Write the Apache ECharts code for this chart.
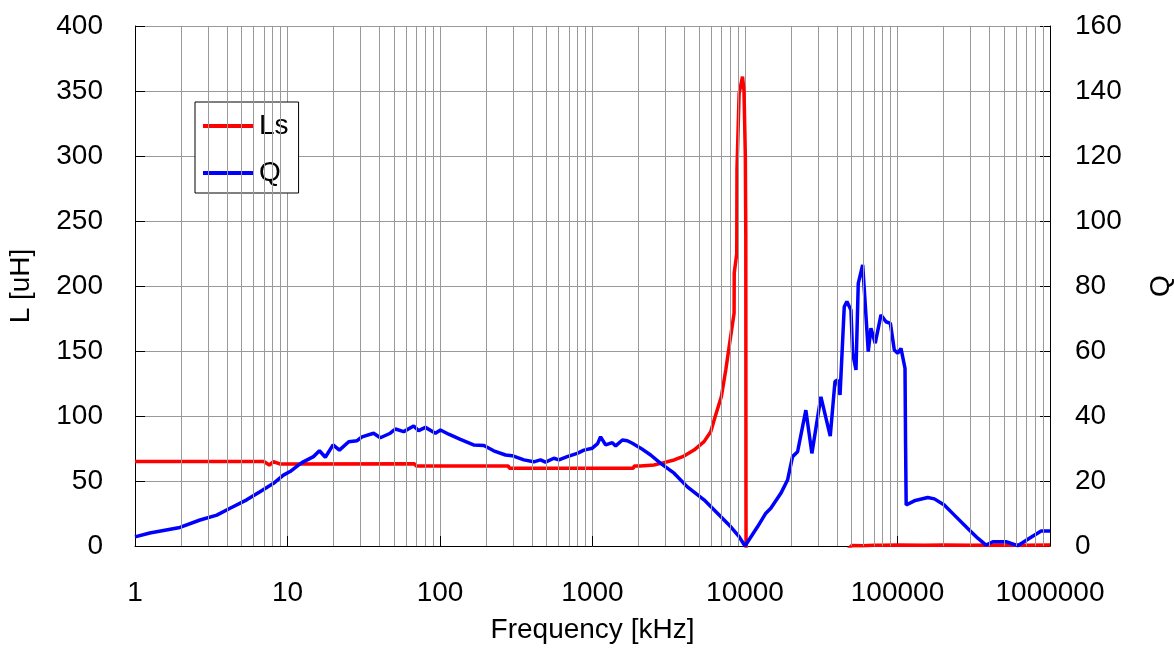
<!DOCTYPE html>
<html>
<head>
<meta charset="utf-8">
<script src="https://cdn.jsdelivr.net/npm/echarts@6/dist/echarts.min.js"></script>
<style>
html,body{margin:0;padding:0;background:#fff;overflow:hidden;}
#chart{width:1174px;height:649px;}
</style>
</head>
<body>
<div id="chart"></div>
<script>
// Ls series (left axis, uH)
const lsFreq = [1, 7, 7.1, 7.6, 8.1, 8.9, 68, 70, 280, 286, 1850, 1880, 2070, 2530, 2930, 3430, 3980, 4630, 5390, 5960, 6370, 7000, 7480, 7870, 8480, 8500, 8830, 8860, 9150, 9630, 9850, 10050, 10120, 10150, 10180, 12000, 30000, 48000, 50000, 60000, 70000, 80000, 100000, 150000, 200000, 300000, 500000, 700000, 1000000];
const lsVal  = [65, 65, 63.5, 62.3, 64.8, 63.1, 63.2, 61.5, 61.5, 59.8, 59.8, 61.5, 61.5, 62.3, 64.1, 66.2, 69.2, 73.8, 80.3, 87.9, 99.5, 115, 135.4, 153.3, 179, 210, 225, 290, 348, 361, 350, 300, 240, 30, -40, -60, -20, -2, 0.3, 0.2, 0.5, 0.6, 0.8, 0.6, 0.7, 0.6, 0.7, 0.6, 0.7];

// Q series (right axis)
const qFreq = [1, 1.25, 1.97, 2.67, 3.44, 4.2, 5.4, 6.6, 8.1, 9.4, 10.4, 11.8, 12.7, 14.8, 16.2, 17.7, 19.9, 21.9, 25.2, 28.6, 30.8, 36.7, 40.6, 47.2, 51, 57.8, 67.2, 72.4, 80.2, 93.3, 100.7, 114, 136, 166, 194, 225, 269, 297, 355, 412, 456, 492, 558, 602, 683, 794, 879, 997, 1080, 1130, 1219, 1349, 1419, 1570, 1691, 1825, 2070, 2406, 2799, 3428, 4189, 5386, 6594, 8069, 9145, 10000, 12080, 13700, 14760, 17180, 19010, 20500, 22120, 25060, 27460, 31460, 36230, 38900, 40480, 42000, 44750, 46580, 49500, 50800, 53430, 55300, 59100, 60600, 64300, 66950, 71450, 77930, 84080, 89800, 95300, 100300, 105400, 112000, 113000, 114000, 128900, 157800, 174500, 202600, 236000, 289000, 336000, 381000, 422000, 515000, 615000, 733000, 875000, 1000000];
const qVal  = [2.8, 4, 5.7, 8, 9.5, 11.6, 14.2, 16.7, 19.3, 21.8, 22.9, 24.9, 25.9, 27.5, 29.3, 27.3, 31.1, 29.5, 32.1, 32.4, 33.6, 34.7, 33.3, 34.7, 36.0, 35.2, 36.9, 35.5, 36.5, 34.7, 35.7, 34.4, 32.8, 31.1, 30.9, 29.3, 28.0, 27.8, 26.5, 25.9, 26.5, 25.8, 27.0, 26.5, 27.5, 28.5, 29.5, 30.1, 31.5, 33.6, 31.1, 31.8, 30.8, 32.6, 32.4, 31.6, 30.1, 28.0, 25.4, 22.4, 18.2, 14.2, 10.1, 5.9, 2.9, 0, 5.9, 10.1, 11.6, 16.2, 20.3, 27.5, 29.0, 41.8, 28.5, 45.9, 33.8, 50.6, 51.1, 46.5, 73.6, 75.2, 72.6, 59.3, 54.2, 80.8, 86.5, 78.8, 59.8, 67.0, 62.4, 71.1, 69.0, 68.5, 60.3, 59.3, 60.8, 54.7, 30.6, 12.6, 13.9, 14.9, 14.5, 12.6, 9.5, 5.4, 2.4, 0.3, 1.3, 1.3, 0.1, 2.4, 4.6, 4.6];

const seriesNames = ['Ls', 'Q'];
const xAxisTitle = 'Frequency [kHz]';
const yLeftTitle = 'L [uH]';
const yRightTitle = 'Q';

// minor grid positions 2..9 in each decade
const minorGrid = [];
for (let d = 1; d < 1000000; d *= 10) {
  for (let m = 2; m <= 9; m++) minorGrid.push({xAxis: m * d});
}

const FONT = '"Liberation Sans", Arial, sans-serif';
const FS = 28;
const GRID = '#999999';

const chart = echarts.init(document.getElementById('chart'), null, {renderer: 'canvas', width: 1174, height: 649});
chart.setOption({
  animation: false,
  backgroundColor: '#ffffff',
  textStyle: {fontFamily: FONT},
  grid: {left: 135, top: 26, right: 124, bottom: 103, containLabel: false, outerBoundsMode: 'none'},
  legend: {
    data: seriesNames,
    orient: 'vertical',
    left: 195, top: 102,
    padding: [10, 10, 6, 8],
    itemWidth: 51, itemHeight: 14, itemGap: 19,
    backgroundColor: '#ffffff',
    borderColor: '#000000', borderWidth: 1, borderRadius: 0,
    textStyle: {fontSize: FS, color: '#000', fontFamily: FONT},
    icon: 'path://M0,0 L51,0 L51,4 L0,4 Z'
  },
  xAxis: {
    type: 'log', logBase: 10, min: 1, max: 1000000,
    name: xAxisTitle, nameLocation: 'middle', nameGap: 70,
    nameTextStyle: {fontSize: FS, color: '#000', fontFamily: FONT},
    axisLine: {show: true, lineStyle: {color: '#000', width: 1}},
    axisTick: {show: true, inside: true, length: 10, lineStyle: {color: '#000'}},
    axisLabel: {fontSize: FS, color: '#000', margin: 33, fontFamily: FONT, formatter: v => String(Math.round(v))},
    splitLine: {show: true, lineStyle: {color: GRID, width: 1}}
  },
  yAxis: [{
    type: 'value', min: 0, max: 400, interval: 50, position: 'left',
    name: yLeftTitle, nameLocation: 'middle', nameGap: 100, nameRotate: 90,
    nameTextStyle: {fontSize: FS, color: '#000', fontFamily: FONT},
    axisLine: {show: true, lineStyle: {color: '#000', width: 1}},
    axisTick: {show: true, inside: true, length: 10, lineStyle: {color: '#000'}},
    axisLabel: {fontSize: FS, color: '#000', margin: 32, fontFamily: FONT},
    splitLine: {show: true, lineStyle: {color: GRID, width: 1}}
  }, {
    type: 'value', min: 0, max: 160, interval: 20, position: 'right',
    name: yRightTitle, nameLocation: 'middle', nameGap: 97, nameRotate: 90,
    nameTextStyle: {fontSize: FS, color: '#000', fontFamily: FONT},
    axisLine: {show: true, lineStyle: {color: '#000', width: 1}},
    axisTick: {show: true, inside: true, length: 10, lineStyle: {color: '#000'}},
    axisLabel: {fontSize: FS, color: '#000', margin: 25, fontFamily: FONT},
    splitLine: {show: false}
  }],
  series: [{
    name: '_grid', type: 'line', data: [], z: 1, silent: true,
    markLine: {
      silent: true, symbol: 'none', animation: false,
      label: {show: false},
      lineStyle: {color: GRID, width: 1, type: 'solid'},
      emphasis: {disabled: true},
      data: minorGrid
    }
  }, {
    name: 'Ls', type: 'line', yAxisIndex: 0, z: 3,
    showSymbol: false, symbol: 'none', clip: true,
    lineStyle: {color: '#ff0000', width: 3.5},
    itemStyle: {color: '#ff0000'},
    data: lsFreq.map((f, i) => [f, lsVal[i]])
  }, {
    name: 'Q', type: 'line', yAxisIndex: 1, z: 4,
    showSymbol: false, symbol: 'none', clip: true,
    lineStyle: {color: '#0000ff', width: 3.5},
    itemStyle: {color: '#0000ff'},
    data: qFreq.map((f, i) => [f, qVal[i]])
  }]
});
</script>
</body>
</html>
